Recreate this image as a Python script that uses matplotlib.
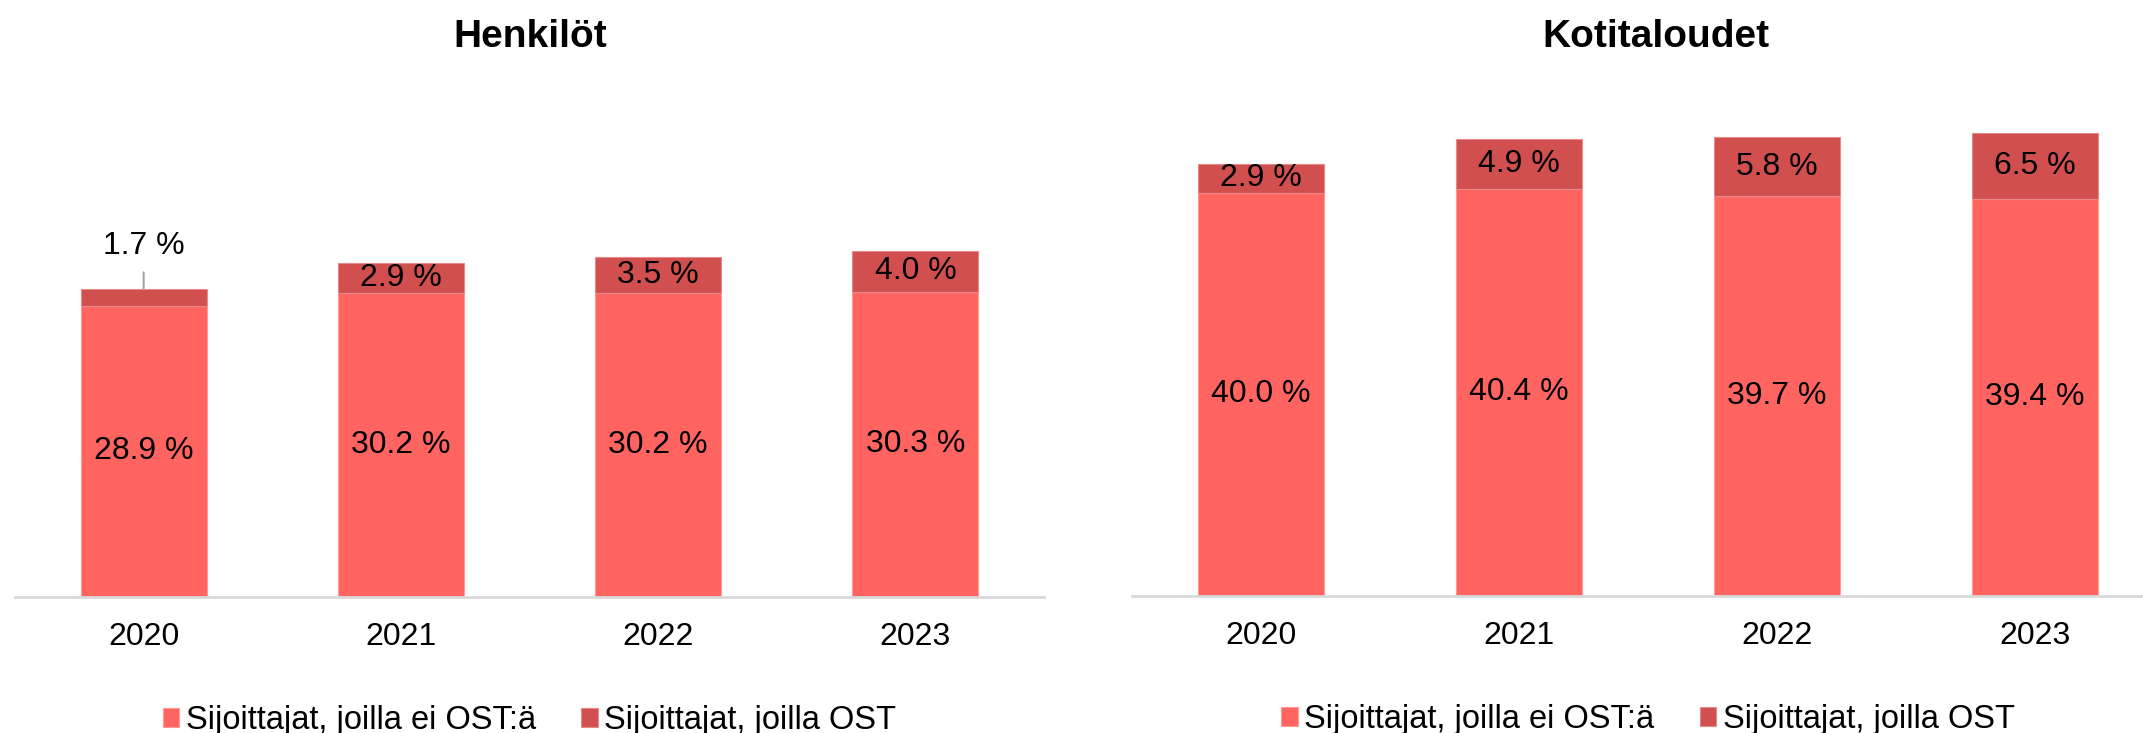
import matplotlib
matplotlib.use('Agg')
import matplotlib.pyplot as plt
import numpy as np

plt.rcParams['font.family'] = ['Liberation Sans', 'DejaVu Sans']

years = ['2020', '2021', '2022', '2023']
henkilot_ei = [28.9, 30.2, 30.2, 30.3]
henkilot_ost = [1.7, 2.9, 3.5, 4.0]
koti_ei = [40.0, 40.4, 39.7, 39.4]
koti_ost = [2.9, 4.9, 5.8, 6.5]
titles = ['Henkilöt', 'Kotitaloudet']
labels = ['Sijoittajat, joilla ei OST:ä', 'Sijoittajat, joilla OST']

c_ei = '#FF6461'
c_ost = '#D14F4F'
fs = 23

fig = plt.figure(figsize=(21.43, 7.33), dpi=100)
ax1 = fig.add_axes([0.0070, 0.1855, 0.4802, 0.6876])
ax2 = fig.add_axes([0.5282, 0.1869, 0.4816, 0.6876])

def panel(ax, ei, ost, title, small_first=False):
    x = np.arange(len(years))
    ax.bar(x, ei, width=0.49, color=c_ei, edgecolor='#FF9A98', linewidth=0.8, label=labels[0])
    ax.bar(x, ost, width=0.49, bottom=ei, color=c_ost, edgecolor='#E58A8A', linewidth=0.8, label=labels[1])
    for i in range(len(x)):
        ax.text(x[i], ei[i] / 2, '%.1f %%' % ei[i], ha='center', va='center', fontsize=fs)
        top = ei[i] + ost[i]
        if small_first and i == 0:
            ax.annotate('%.1f %%' % ost[i], xy=(x[i], top), xytext=(x[i], top + 4.2),
                        ha='center', va='center', fontsize=fs,
                        arrowprops=dict(arrowstyle='-', color='#A6A6A6', lw=1.5, shrinkA=6, shrinkB=0))
        else:
            ax.text(x[i], ei[i] + ost[i] / 2, '%.1f %%' % ost[i], ha='center', va='center', fontsize=fs)
    ax.set_xlim(-0.5, 3.5)
    ax.set_ylim(0, 50)
    ax.set_xticks(x)
    ax.set_xticklabels(years, fontsize=fs)
    ax.tick_params(axis='x', length=0, pad=18)
    ax.set_yticks([])
    for s in ['top', 'left', 'right']:
        ax.spines[s].set_visible(False)
    ax.spines['bottom'].set_color('#D9D9D9')
    ax.spines['bottom'].set_linewidth(2)
    ax.legend(loc='center', bbox_to_anchor=(0.5, -0.245), ncol=2, frameon=False, fontsize=23.5,
              handlelength=0.5, handleheight=0.55, handletextpad=0.2, columnspacing=1.4,
              borderpad=0, borderaxespad=0)

panel(ax1, henkilot_ei, henkilot_ost, titles[0], small_first=True)
panel(ax2, koti_ei, koti_ost, titles[1])

fig.text(0.2473, 1 - 37 / 733, titles[0], ha='center', va='center', fontsize=28, fontweight='bold')
fig.text(0.7727, 1 - 37 / 733, titles[1], ha='center', va='center', fontsize=28, fontweight='bold')

plt.savefig('out.png', dpi=100)
